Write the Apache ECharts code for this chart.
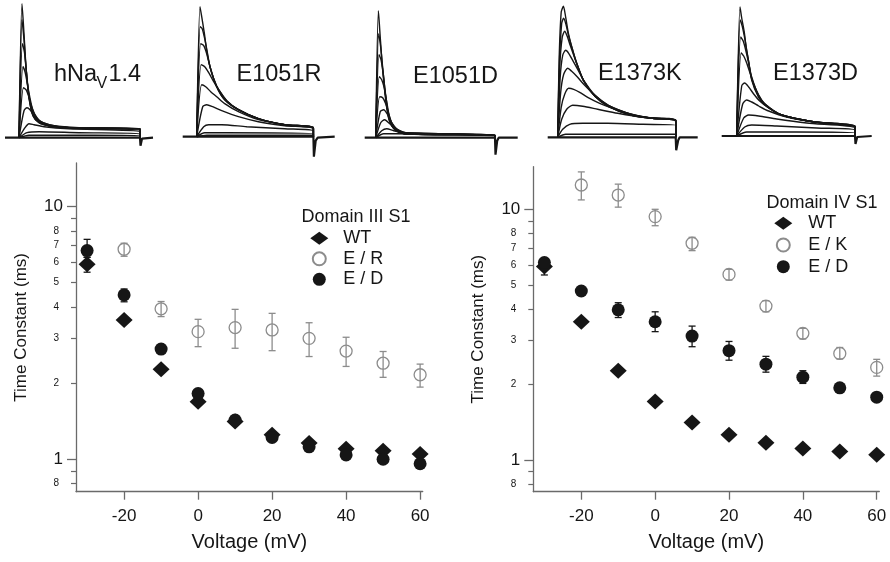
<!DOCTYPE html>
<html><head><meta charset="utf-8">
<script src="https://cdn.jsdelivr.net/npm/echarts@6/dist/echarts.min.js"></script>
<style>html,body{margin:0;padding:0;background:#fff}#c{width:890px;height:562px}</style>
</head><body><div id="c"></div>
<script>
// ---------------- data ----------------
const voltages = [-30, -20, -10, 0, 10, 20, 30, 40, 50, 60];
const xTicks = [-20, 0, 20, 40, 60];
const yMinorTicks = [0.8, 0.9, 2, 3, 4, 5, 6, 7, 8, 9];
const yMinorLabels = [0.8, 2, 3, 4, 5, 6, 7, 8];
const yMajorTicks = [1, 10];

// Domain III S1
const d3WT   = [5.91, 3.56, 2.27, 1.69, 1.41, 1.25, 1.16, 1.10, 1.08, 1.05];
const d3WTlo = [5.50, null, null, null, null, null, null, null, null, null];
const d3WThi = [6.30, null, null, null, null, null, null, null, null, null];
const d3ER   = [null, 6.78, 3.94, 3.20, 3.32, 3.25, 3.01, 2.68, 2.40, 2.16];
const d3ERlo = [null, 6.36, 3.67, 2.79, 2.75, 2.69, 2.55, 2.33, 2.11, 1.93];
const d3ERhi = [null, 7.16, 4.21, 3.58, 3.92, 3.78, 3.47, 3.04, 2.67, 2.38];
const d3ED   = [6.70, 4.47, 2.73, 1.82, 1.43, 1.22, 1.12, 1.04, 1.00, 0.96];
const d3EDlo = [6.30, 4.20, null, null, null, null, null, null, null, null];
const d3EDhi = [7.42, 4.72, null, null, null, null, null, null, null, null];

// Domain IV S1
const d4WT   = [5.91, 3.56, 2.27, 1.71, 1.41, 1.26, 1.17, 1.11, 1.08, 1.05];
const d4WTlo = [5.47, null, null, null, null, null, null, null, null, null];
const d4WThi = [6.28, null, null, null, null, null, null, null, null, null];
const d4EK   = [null, 12.5, 11.4, 9.35, 7.32, 5.50, 4.11, 3.20, 2.66, 2.34];
const d4EKlo = [null, 10.9, 10.2, 8.60, 6.84, 5.22, 3.90, 3.04, 2.53, 2.16];
const d4EKhi = [null, 14.1, 12.6, 10.0, 7.73, 5.76, 4.32, 3.35, 2.81, 2.52];
const d4ED   = [6.13, 4.72, 3.97, 3.56, 3.12, 2.73, 2.41, 2.14, 1.94, 1.78];
const d4EDlo = [null, null, 3.70, 3.25, 2.83, 2.50, 2.24, 2.02, null, null];
const d4EDhi = [null, null, 4.24, 3.90, 3.42, 2.97, 2.59, 2.27, null, null];

// Current traces (time, current) – arbitrary units
const traceLabels = ['hNaV1.4', 'E1051R', 'E1051D', 'E1373K', 'E1373D'];
const pulseEnd = [121, 116.7, 119.3, 118, 118.3];

const traceNav14 = [
  [[0,0],[3,134],[5,104],[7,71],[10,40],[14,22],[20,15],[30,12],[50,10],[80,9],[121,9]],
  [[0,0],[3,118],[5,98],[7,70],[10,40],[14,22],[20,15],[30,12],[50,10],[121,9]],
  [[0,0],[3.5,94],[5.5,85],[7.5,65],[10,42],[14,24],[20,16],[30,12],[50,10],[121,9]],
  [[0,0],[4,71],[6,66],[8,56],[10.5,42],[14,27],[20,17],[30,12],[50,10],[121,8]],
  [[0,0],[4.5,50],[7,48],[9.5,42],[12,33],[16,23],[22,16],[35,12],[60,10],[121,8]],
  [[0,0],[5,27],[8,30],[11,28],[15,22],[20,17],[30,13],[50,10],[121,7]],
  [[0,0],[6,10],[10,14],[15,13],[25,11],[50,9],[121,6]],
  [[0,0],[8,5],[20,6],[60,5],[121,4]],
  [[0,0],[10,2.5],[121,2]]
];
const traceE1051R = [
  [[0,0],[3.3,130],[5,120],[7.7,103],[10,86],[13.3,70],[20,50],[28,37],[41.7,27],[61.7,18],[88,12],[116.7,9]],
  [[0,0],[3.5,110],[5.5,108],[8,98],[10.5,85],[13.3,70],[20,50],[28,37],[41.7,27],[61.7,18],[88,12],[116.7,9]],
  [[0,0],[4,93],[7,91],[10,83],[13.3,70],[17,58],[22,47],[30,36],[41.7,27],[61.7,18],[88,12],[116.7,9]],
  [[0,0],[4.5,72],[8,70],[12,64],[17,55],[22,47],[30,36],[41.7,27],[61.7,18],[88,12],[116.7,9]],
  [[0,0],[5,52],[9,50],[14,45],[20,40],[28,33],[41.7,25],[61.7,17],[88,12],[116.7,8]],
  [[0,0],[6,30],[10,32],[16,30],[25,26],[41.7,20],[61.7,15],[88,11],[116.7,8]],
  [[0,0],[7,10],[12,12],[25,12],[50,10],[88,8],[116.7,6]],
  [[0,0],[8,4],[30,4],[116.7,3]],
  [[0,0],[10,1.5],[116.7,1.5]]
];
const traceE1051D = [
  [[0,0],[2.7,127],[4.3,104],[6.7,71],[10,38],[13.3,18],[19.3,8],[29,4],[60,3],[119.3,2.5]],
  [[0,0],[3,104],[4.8,92],[7,70],[10,40],[13.3,19],[19.3,8],[29,4],[119.3,2.5]],
  [[0,0],[3.3,83],[5.3,78],[7.5,64],[10.3,40],[13.5,20],[19.3,8],[29,4],[119.3,2.5]],
  [[0,0],[3.6,61],[6,58],[8.5,50],[11,36],[14,20],[19.3,9],[29,4],[119.3,2.5]],
  [[0,0],[4,41],[7,40],[10,34],[13,24],[16,15],[21,8],[30,4],[119.3,2.5]],
  [[0,0],[4.5,26],[8,28],[12,23],[16,15],[21,9],[30,5],[119.3,2.5]],
  [[0,0],[5,15],[9,18],[14,14],[20,9],[30,5],[119.3,2.5]],
  [[0,0],[6,7],[11,9],[18,7],[28,5],[119.3,2]],
  [[0,0],[8,4],[20,4],[119.3,1.5]]
];
const traceE1373K = [
  [[0,0],[1.5,80],[3.5,125],[5.7,131],[8,120],[10.7,104],[15,87],[19,74],[25.7,57],[37.3,41],[50.7,31],[74,22],[95,19],[118,17]],
  [[0,0],[1.7,75],[4,114],[6,119],[8.5,112],[11,101],[15,87],[19,74],[25.7,57],[37.3,41],[50.7,31],[74,22],[95,19],[118,17]],
  [[0,0],[2,70],[4.5,100],[7,106],[9.5,101],[12.5,92],[16,82],[20,71],[25.7,57],[37.3,41],[50.7,31],[74,22],[95,19],[118,17]],
  [[0,0],[2.5,60],[5,82],[8,87],[11,84],[15,77],[20,68],[26,57],[37.3,42],[50.7,32],[74,23],[95,19],[118,17]],
  [[0,0],[3,45],[6,63],[10,69],[14,66],[19,61],[26,53],[37.3,42],[50.7,32],[74,23],[95,19],[118,16]],
  [[0,0],[3.5,30],[7,43],[11,49],[16,48],[22,45],[30,40],[42,34],[55,29],[74,23],[95,19],[118,16]],
  [[0,0],[4,18],[9,28],[15,32],[25,31],[40,28],[60,24],[85,20],[118,17]],
  [[0,0],[5,8],[12,13],[25,14],[50,14],[85,13],[118,12]],
  [[0,0],[8,3],[118,3]]
];
const traceE1373D = [
  [[0,0],[3.3,129],[5,118],[7.7,103],[9.5,88],[11.7,76],[15,56],[21.7,39],[28.3,31],[45,21],[78,14],[118.3,10]],
  [[0,0],[3.5,116],[5.5,110],[8,98],[10,86],[12,74],[15,57],[21.7,40],[28.3,31],[45,21],[78,14],[118.3,10]],
  [[0,0],[4,99],[6.5,95],[9,86],[11.5,75],[15,59],[21.7,41],[28.3,32],[45,21],[78,14],[118.3,9]],
  [[0,0],[4.5,83],[7,80],[10,73],[13,64],[17,52],[22,41],[28.3,32],[45,21],[78,14],[118.3,9]],
  [[0,0],[5,50],[8,53],[12,49],[17,42],[23,35],[32,28],[45,21],[78,14],[118.3,9]],
  [[0,0],[6,32],[10,36],[15,34],[22,30],[32,25],[50,19],[78,14],[118.3,9]],
  [[0,0],[7,18],[12,21],[22,20],[40,17],[70,13],[118.3,8]],
  [[0,0],[8,9],[15,11],[40,10],[80,8],[118.3,6]],
  [[0,0],[10,4],[60,4],[118.3,3]]
];
const baseNav14  = [[-14,0],[121,0],[121.5,-8],[123,-1],[124,0],[134,0]];
const baseE1051R = [[-14,0],[116.7,0],[117.2,-20],[119,-4],[121,-1],[123,0],[138,0]];
const baseE1051D = [[-11,0],[119.3,0],[119.8,-17],[121.5,-3],[123,0],[142,0]];
const baseE1373K = [[-10,0],[118,0],[118.5,-13],[120.5,-3],[122,0],[140,0]];
const baseE1373D = [[-15,0],[118.3,0],[118.8,-8],[120.5,-1],[122,0],[135,0]];

// ---------------- styling / layout ----------------
const FONT = "'Liberation Sans', Arial, Helvetica, sans-serif";
const INK = '#161616';
const AXIS = '#6a6a6a';
const OPEN = '#8c8c8c';

const traces = [traceNav14, traceE1051R, traceE1051D, traceE1373K, traceE1373D];
const bases = [baseNav14, baseE1051R, baseE1051D, baseE1373K, baseE1373D];
const insetLayout = [
  {onset: 19,    base: 137.7, t0: -14, t1: 134},
  {onset: 196.7, base: 136.7, t0: -14, t1: 138},
  {onset: 375.7, base: 137.7, t0: -11, t1: 142},
  {onset: 557.7, base: 137.3, t0: -10, t1: 140},
  {onset: 736.7, base: 136.0, t0: -15, t1: 135}
];

function pts(vals) {
  const out = [];
  voltages.forEach((v, i) => { if (vals[i] != null) out.push([v, vals[i]]); });
  return out;
}
function errData(lo, hi) {
  const out = [];
  voltages.forEach((v, i) => { if (lo[i] != null && hi[i] != null) out.push([v, lo[i], hi[i]]); });
  return out;
}
function errSeries(xi, yi, data, color) {
  return {
    type: 'custom', name: 'err', xAxisIndex: xi, yAxisIndex: yi, silent: true, z: 2,
    encode: {x: 0, y: [1, 2]}, data: data,
    renderItem: function (params, api) {
      const x = api.value(0);
      const top = api.coord([x, api.value(2)]);
      const bot = api.coord([x, api.value(1)]);
      const cap = 3.5;
      const st = {stroke: color, lineWidth: 1.3};
      return {type: 'group', children: [
        {type: 'line', shape: {x1: top[0], y1: top[1], x2: bot[0], y2: bot[1]}, style: st},
        {type: 'line', shape: {x1: top[0] - cap, y1: top[1], x2: top[0] + cap, y2: top[1]}, style: st},
        {type: 'line', shape: {x1: bot[0] - cap, y1: bot[1], x2: bot[0] + cap, y2: bot[1]}, style: st}
      ]};
    }
  };
}
function wtSeries(xi, yi, vals) {
  return {type: 'scatter', name: 'WT', xAxisIndex: xi, yAxisIndex: yi, data: pts(vals), silent: true,
    symbol: 'diamond', symbolSize: [17, 16], itemStyle: {color: INK, opacity: 1}, z: 4};
}
function edSeries(xi, yi, vals) {
  return {type: 'scatter', name: 'E / D', xAxisIndex: xi, yAxisIndex: yi, data: pts(vals), silent: true,
    symbol: 'circle', symbolSize: 13, itemStyle: {color: INK, opacity: 1}, z: 5};
}
function openSeries(name, xi, yi, vals) {
  return {type: 'scatter', name: name, xAxisIndex: xi, yAxisIndex: yi, data: pts(vals), silent: true,
    symbol: 'circle', symbolSize: 12,
    itemStyle: {color: 'rgba(255,255,255,0)', borderColor: OPEN, borderWidth: 1.3, opacity: 1}, z: 3};
}

const scatterGrids = [
  {left: 76, top: 163, width: 346.7, height: 328.7, ymin: 0.744, ymax: 14.88},
  {left: 533.3, top: 166.7, width: 346, height: 325, ymin: 0.747, ymax: 14.79}
];

const grid = [], xAxis = [], yAxis = [], series = [];
scatterGrids.forEach((g, gi) => {
  grid.push({left: g.left, top: g.top, width: g.width, height: g.height, outerBoundsMode: 'none'});
  xAxis.push({
    gridIndex: gi, type: 'value', position: 'bottom', min: -33, max: 60.7,
    axisLine: {show: true, onZero: false, lineStyle: {color: AXIS, width: 1.3}},
    axisTick: {show: true, inside: false, length: 8, customValues: xTicks, lineStyle: {color: AXIS, width: 1.3}},
    axisLabel: {show: true, customValues: xTicks, margin: 16, fontSize: 17, color: INK, fontFamily: FONT},
    splitLine: {show: false},
    name: 'Voltage (mV)', nameLocation: 'middle', nameGap: 41,
    nameTextStyle: {fontSize: 20, color: INK, fontFamily: FONT}
  });
  yAxis.push({
    gridIndex: gi, type: 'log', logBase: 10, position: 'left', offset: 0, min: g.ymin, max: g.ymax,
    axisLine: {show: true, onZero: false, lineStyle: {color: AXIS, width: 1.3}},
    axisTick: {show: true, inside: false, length: 5, customValues: yMinorTicks, lineStyle: {color: AXIS, width: 1.2}},
    axisLabel: {show: true, customValues: yMinorLabels, margin: 17, fontSize: 10, color: INK, fontFamily: FONT,
      formatter: v => (v < 1 ? String(Math.round(v * 10)) : String(Math.round(v)))},
    splitLine: {show: false}, minorTick: {show: false}, minorSplitLine: {show: false},
    name: 'Time Constant (ms)', nameLocation: 'middle', nameGap: 46,
    nameTextStyle: {fontSize: 17, color: INK, fontFamily: FONT}
  });
  yAxis.push({
    gridIndex: gi, type: 'log', logBase: 10, position: 'left', offset: 0, min: g.ymin, max: g.ymax,
    axisLine: {show: false, onZero: false},
    axisTick: {show: true, inside: false, length: 9, customValues: yMajorTicks, lineStyle: {color: AXIS, width: 1.3}},
    axisLabel: {show: true, customValues: yMajorTicks, margin: 13, fontSize: 17, color: INK, fontFamily: FONT,
      formatter: v => String(Math.round(v))},
    splitLine: {show: false}, minorTick: {show: false}
  });
});

// Domain III S1 (x0, y0)
series.push(errSeries(0, 0, errData(d3ERlo, d3ERhi), OPEN));
series.push(errSeries(0, 0, errData(d3WTlo, d3WThi), INK));
series.push(errSeries(0, 0, errData(d3EDlo, d3EDhi), INK));
series.push(wtSeries(0, 0, d3WT));
series.push(openSeries('E / R', 0, 0, d3ER));
series.push(edSeries(0, 0, d3ED));
// Domain IV S1 (x1, y2)
series.push(errSeries(1, 2, errData(d4EKlo, d4EKhi), OPEN));
series.push(errSeries(1, 2, errData(d4WTlo, d4WThi), INK));
series.push(errSeries(1, 2, errData(d4EDlo, d4EDhi), INK));
series.push(wtSeries(1, 2, d4WT));
series.push(openSeries('E / K', 1, 2, d4EK));
series.push(edSeries(1, 2, d4ED));

// Inset current traces
insetLayout.forEach((L, k) => {
  const gi = 2 + k;
  const yMin = -25, yMax = 140;
  grid.push({left: L.onset + L.t0, width: L.t1 - L.t0, top: L.base - yMax, height: yMax - yMin, outerBoundsMode: 'none'});
  xAxis.push({gridIndex: gi, type: 'value', min: L.t0, max: L.t1, show: false});
  yAxis.push({gridIndex: gi, type: 'value', min: yMin, max: yMax, show: false});
  const yi = yAxis.length - 1, xi = xAxis.length - 1;
  series.push({type: 'line', name: 'baseline', xAxisIndex: xi, yAxisIndex: yi, data: bases[k], silent: true,
    showSymbol: false, symbol: 'none', lineStyle: {color: INK, width: 2.2}, z: 2, animation: false});
  traces[k].forEach(curve => {
    series.push({type: 'line', name: 'trace', xAxisIndex: xi, yAxisIndex: yi,
      data: curve.concat([[pulseEnd[k], 0]]), silent: true, showSymbol: false, symbol: 'none',
      smooth: 0.25, lineStyle: {color: INK, width: 1.4}, z: 3, animation: false});
  });
});

function txt(text, x, y, size) {
  return {type: 'text', x: x, y: y, silent: true,
    style: {text: text, fill: INK, fontSize: size, fontFamily: FONT, align: 'left', verticalAlign: 'middle'}};
}

const option = {
  backgroundColor: '#ffffff',
  animation: false,
  grid: grid, xAxis: xAxis, yAxis: yAxis, series: series,
  legend: [
    {left: 310.3, top: 229.3, orient: 'vertical', padding: 0, itemWidth: 18, itemHeight: 13, itemGap: 2.5,
      selectedMode: false, data: ['WT', 'E / R', 'E / D'],
      textStyle: {fontSize: 18, lineHeight: 18, color: INK, fontFamily: FONT, padding: [0, 0, 0, 10]}},
    {left: 774.3, top: 214.3, orient: 'vertical', padding: 0, itemWidth: 18, itemHeight: 13, itemGap: 3.7,
      selectedMode: false, data: ['WT', 'E / K', 'E / D'],
      textStyle: {fontSize: 18, lineHeight: 18, color: INK, fontFamily: FONT, padding: [0, 0, 0, 11]}}
  ],
  graphic: [
    txt('Domain III S1', 301.5, 217.5, 18),
    txt('Domain IV S1', 766.5, 203.3, 18),
    txt('hNa', 54, 75, 23.5),
    txt('V', 96.5, 84, 16),
    txt('1.4', 108.5, 75, 23.5),
    txt(traceLabels[1], 236.5, 75, 23.5),
    txt(traceLabels[2], 413, 76.7, 23.5),
    txt(traceLabels[3], 598, 73.3, 23.5),
    txt(traceLabels[4], 773, 73.3, 23.5)
  ]
};

const chart = echarts.init(document.getElementById('c'), null, {renderer: 'canvas'});
chart.setOption(option);
</script>
</body></html>
